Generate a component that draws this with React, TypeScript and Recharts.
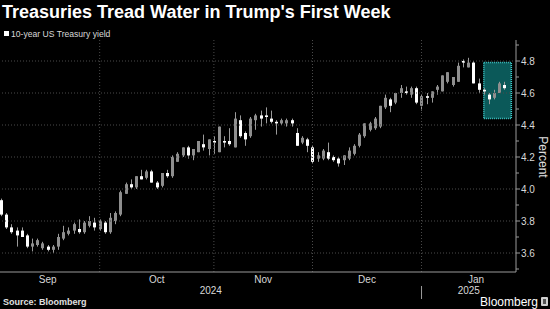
import React from 'react';
import { ComposedChart, Bar, XAxis, YAxis, ReferenceLine, ReferenceArea } from 'recharts';

// 10-year US Treasury yield, daily bars, Sep 3 2024 - Jan 24 2025
const open = [
  3.93, 3.84, 3.76, 3.74, 3.74, 3.71, 3.64, 3.65, 3.63, 3.64, 3.62, 3.64, 3.69, 3.72, 3.74, 3.75, 3.73, 3.77, 3.79, 3.75,
  3.79, 3.73, 3.8, 3.84, 3.97, 4.03, 4.01, 4.08, 4.07, 4.11, 4.04, 4.02, 4.1, 4.08, 4.17, 4.21, 4.26, 4.21, 4.23, 4.28, 4.25, 4.3,
  4.23, 4.3, 4.3, 4.26, 4.43, 4.35, 4.33, 4.43, 4.46, 4.46, 4.44, 4.42, 4.41, 4.41, 4.43, 4.35, 4.29, 4.31, 4.26,
  4.19, 4.19, 4.23, 4.2, 4.19, 4.18, 4.19, 4.22, 4.27, 4.33, 4.37, 4.38, 4.39, 4.51, 4.56, 4.54, 4.6, 4.61, 4.59, 4.63, 4.52,
  4.58, 4.57, 4.62, 4.61, 4.67, 4.65, 4.67, 4.8, 4.76, 4.79, 4.66, 4.62, 4.59, 4.57, 4.6, 4.65,
];
const high = [
  3.94, 3.85, 3.78, 3.76, 3.76, 3.72, 3.69, 3.69, 3.67, 3.65, 3.65, 3.72, 3.77, 3.76, 3.79, 3.81, 3.8, 3.83, 3.82, 3.81,
  3.8, 3.85, 3.86, 3.99, 4.04, 4.06, 4.08, 4.12, 4.12, 4.12, 4.05, 4.1, 4.12, 4.21, 4.23, 4.26, 4.27, 4.25, 4.3, 4.34, 4.31, 4.33,
  4.39, 4.33, 4.38, 4.48, 4.46, 4.36, 4.45, 4.47, 4.49, 4.51, 4.49, 4.43, 4.44, 4.44, 4.44, 4.38, 4.33, 4.32, 4.27,
  4.23, 4.25, 4.29, 4.21, 4.2, 4.21, 4.26, 4.28, 4.35, 4.41, 4.42, 4.45, 4.52, 4.59, 4.57, 4.6, 4.65, 4.64, 4.64, 4.64, 4.59,
  4.6, 4.61, 4.65, 4.71, 4.73, 4.7, 4.79, 4.81, 4.82, 4.8, 4.69, 4.63, 4.6, 4.62, 4.67, 4.67,
];
const low = [
  3.83, 3.75, 3.72, 3.64, 3.7, 3.63, 3.61, 3.64, 3.62, 3.61, 3.6, 3.62, 3.68, 3.71, 3.72, 3.72, 3.72, 3.76, 3.74, 3.74,
  3.72, 3.72, 3.78, 3.83, 3.97, 4.0, 4.0, 4.06, 4.06, 4.04, 4.0, 4.01, 4.07, 4.07, 4.17, 4.2, 4.19, 4.18, 4.23, 4.24, 4.21, 4.22,
  4.23, 4.26, 4.27, 4.26, 4.32, 4.27, 4.32, 4.37, 4.39, 4.41, 4.41, 4.34, 4.4, 4.39, 4.39, 4.27, 4.28, 4.23, 4.16,
  4.17, 4.18, 4.18, 4.17, 4.14, 4.15, 4.18, 4.21, 4.26, 4.32, 4.36, 4.37, 4.38, 4.5, 4.48, 4.53, 4.57, 4.59, 4.57, 4.53, 4.49,
  4.53, 4.54, 4.59, 4.61, 4.66, 4.64, 4.67, 4.76, 4.76, 4.66, 4.6, 4.59, 4.53, 4.56, 4.6, 4.62,
];
const close = [
  3.84, 3.76, 3.73, 3.71, 3.7, 3.64, 3.66, 3.68, 3.66, 3.62, 3.64, 3.7, 3.73, 3.74, 3.78, 3.73, 3.79, 3.8, 3.76, 3.8,
  3.73, 3.82, 3.85, 3.98, 4.03, 4.01, 4.08, 4.06, 4.11, 4.04, 4.01, 4.1, 4.08, 4.2, 4.22, 4.26, 4.21, 4.25, 4.3, 4.26, 4.31, 4.29,
  4.39, 4.29, 4.28, 4.44, 4.33, 4.31, 4.44, 4.46, 4.44, 4.45, 4.42, 4.41, 4.43, 4.43, 4.41, 4.27, 4.32, 4.27, 4.17,
  4.21, 4.24, 4.19, 4.18, 4.16, 4.21, 4.24, 4.27, 4.34, 4.41, 4.41, 4.44, 4.52, 4.57, 4.52, 4.6, 4.63, 4.6, 4.63, 4.54, 4.58,
  4.57, 4.61, 4.64, 4.71, 4.73, 4.7, 4.77, 4.79, 4.79, 4.66, 4.62, 4.61, 4.56, 4.6, 4.66, 4.63,
];

const months = ['Sep', 'Oct', 'Nov', 'Dec', 'Jan'];
const sessionsInMonth = [20, 22, 19, 21, 21];
const years = ['2024', '2025'];
const yTicks = [3.5, 3.6, 3.7, 3.8, 3.9, 4.0, 4.1, 4.2, 4.3, 4.4, 4.5, 4.6, 4.7, 4.8, 4.9];
const gridValues = [3.6, 3.8, 4.0, 4.2, 4.4, 4.6, 4.8];
// first week of the new administration
const weekBox = { from: 93, to: 98.3, low: 4.44, high: 4.79 };

const xDomain = [-0.2, 99.2];

const rows = open.map((o, i) => ({
  i,
  open: o,
  high: high[i],
  low: low[i],
  close: close[i],
  range: [low[i], high[i]],
}));

// last session index of each month
const monthEnds: number[] = [];
sessionsInMonth.reduce((acc, n) => {
  monthEnds.push(acc + n);
  return acc + n;
}, -1);
const monthCenters = monthEnds.map((end, k) => ((k === 0 ? -1 : monthEnds[k - 1]) + end) / 2);
const boundaries = monthEnds.slice(0, months.length - 1);
const yearBreak = monthEnds[3];
const yearTicks = [(xDomain[0] + yearBreak) / 2, yearBreak, (yearBreak + xDomain[1]) / 2];

const FONT = '"Liberation Sans", Arial, sans-serif';

const Candle = (props: any) => {
  const { x, y, width, height, payload } = props;
  const span = payload.high - payload.low || 1;
  const k = height / span;
  const top = y + (payload.high - Math.max(payload.open, payload.close)) * k;
  const bottom = y + (payload.high - Math.min(payload.open, payload.close)) * k;
  const up = payload.close >= payload.open;
  const cx = Math.round(x + width / 2) + 0.5;
  return (
    <g>
      <line x1={cx} x2={cx} y1={y} y2={y + height} stroke="#9a9a9a" strokeWidth={1} />
      <rect x={cx - 1.5} y={top} width={3} height={Math.max(1, bottom - top)} fill={up ? '#8e8e8e' : '#ffffff'} />
    </g>
  );
};

const YTick = (props: any) => {
  const { x, y, payload } = props;
  const major = Math.round(payload.value * 10) % 2 === 0;
  return (
    <g>
      <line x1={x} x2={x + (major ? 4 : 3)} y1={y} y2={y} stroke="#9a9a9a" />
      {major && (
        <text x={x + 5} y={y} dy="0.35em" fill="#d8d8d8" fontSize={10} textAnchor="start">
          {payload.value.toFixed(1)}
        </text>
      )}
    </g>
  );
};

const YearTick = (props: any) => {
  const { x, y, payload } = props;
  if (payload.value === yearBreak) {
    return <line x1={x} x2={x} y1={y - 1} y2={y + 12} stroke="#9a9a9a" />;
  }
  const label = payload.value < yearBreak ? years[0] : years[1];
  return (
    <text x={x} y={y} dy="0.71em" fill="#d8d8d8" fontSize={10} textAnchor="middle">
      {label}
    </text>
  );
};

export default function App() {
  return (
    <div
      style={{
        position: 'absolute',
        left: 0,
        top: 0,
        width: 550,
        height: 309,
        background: '#000',
        fontFamily: FONT,
        overflow: 'hidden',
      }}
    >
      <div style={{ position: 'absolute', left: 2, top: 3, fontSize: 18, lineHeight: '18px', fontWeight: 700, color: '#fff', whiteSpace: 'nowrap' }}>
        Treasuries Tread Water in Trump's First Week
      </div>
      <div style={{ position: 'absolute', left: 4, top: 31, width: 5, height: 5, background: '#fff' }} />
      <div style={{ position: 'absolute', left: 11, top: 29, fontSize: 8.6, lineHeight: '10px', color: '#d8d8d8', whiteSpace: 'nowrap' }}>
        10-year US Treasury yield
      </div>

      <ComposedChart
        width={550}
        height={309}
        data={rows}
        margin={{ top: 40, right: 0, bottom: 11, left: 0 }}
        style={{ position: 'absolute', left: 0, top: 0, fontFamily: FONT }}
      >
        <XAxis
          dataKey="i"
          type="number"
          domain={xDomain}
          ticks={monthCenters}
          interval={0}
          tickFormatter={(v: number) => months[monthCenters.indexOf(v)] ?? ''}
          tickLine={false}
          tickSize={0}
          tickMargin={4}
          height={12}
          axisLine={{ stroke: '#9a9a9a' }}
          tick={{ fill: '#d8d8d8', fontSize: 10 }}
          allowDataOverflow
        />
        <XAxis
          xAxisId="year"
          dataKey="i"
          type="number"
          domain={xDomain}
          ticks={yearTicks}
          interval={0}
          tickLine={false}
          tickSize={0}
          tickMargin={3}
          height={14}
          axisLine={false}
          tick={<YearTick />}
          allowDataOverflow
        />
        <YAxis
          orientation="right"
          type="number"
          domain={[3.48125, 4.93125]}
          ticks={yTicks}
          interval={0}
          width={34}
          tickLine={false}
          tickSize={0}
          tickMargin={0}
          axisLine={{ stroke: '#9a9a9a' }}
          tick={<YTick />}
          allowDataOverflow
        />
        {gridValues.map((v) => (
          <ReferenceLine key={`h${v}`} y={v} stroke="#4a4a4a" strokeDasharray="1 2" />
        ))}
        {boundaries.map((b) => (
          <ReferenceLine key={`v${b}`} x={b} stroke="#4a4a4a" strokeDasharray="1 2" />
        ))}
        <Bar dataKey="range" barSize={3} shape={<Candle />} isAnimationActive={false} />
        <ReferenceArea
          x1={weekBox.from}
          x2={weekBox.to}
          y1={weekBox.low}
          y2={weekBox.high}
          fill="#14a3a3"
          fillOpacity={0.55}
          stroke="#3fd0d0"
          strokeDasharray="1 1"
          strokeWidth={1.5}
          ifOverflow="visible"
        />
      </ComposedChart>

      <div
        style={{
          position: 'absolute',
          left: 543,
          top: 157,
          transform: 'translate(-50%, -50%) rotate(90deg)',
          fontSize: 12,
          color: '#e0e0e0',
          whiteSpace: 'nowrap',
        }}
      >
        Percent
      </div>
      <div style={{ position: 'absolute', left: 3, top: 297, fontSize: 9, lineHeight: '11px', fontWeight: 700, color: '#e0e0e0', whiteSpace: 'nowrap' }}>
        Source: Bloomberg
      </div>
      <div style={{ position: 'absolute', left: 480, top: 295, fontSize: 12, lineHeight: '14px', color: '#fff', whiteSpace: 'nowrap' }}>
        Bloomberg
      </div>
      <div style={{ position: 'absolute', left: 541, top: 297, width: 7, height: 9, background: '#d0d0d0', borderRadius: 1 }}>
        <div style={{ position: 'absolute', left: 2, top: 2, width: 3, height: 5, background: '#555' }} />
      </div>
    </div>
  );
}
